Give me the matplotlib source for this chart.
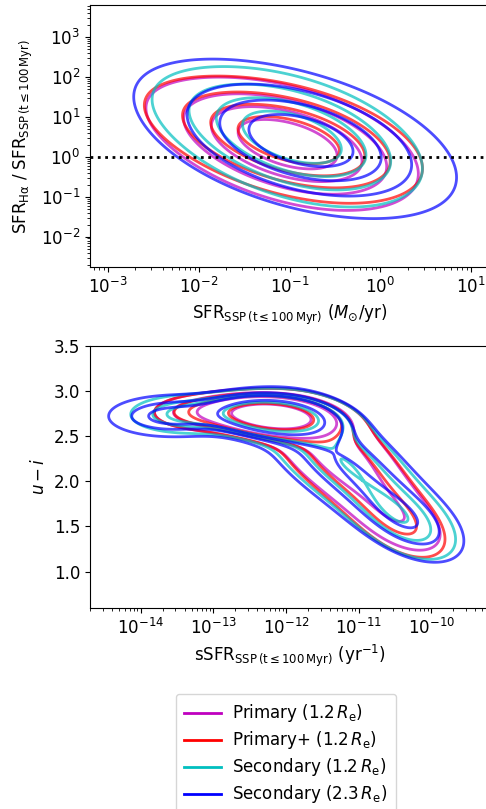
import numpy as np
import matplotlib.pyplot as plt
from matplotlib.lines import Line2D

labels = [r'Primary (1.2$\,R_{\rm e}$)', r'Primary+ (1.2$\,R_{\rm e}$)',
          r'Secondary (1.2$\,R_{\rm e}$)', r'Secondary (2.3$\,R_{\rm e}$)']
colors = ['m', 'r', 'c', 'b']
mass_frac = [0.2, 0.4, 0.6, 0.8]

# top panel: gaussian components in (log SFR, log ratio), one list per sample
top_w = [[0.75, 0.25], [0.75, 0.25], [0.75, 0.25], [0.55, 0.45]]
top_mx = [[-0.94, -1.50], [-0.92, -1.50], [-0.90, -1.40], [-0.86, -1.05]]
top_my = [[0.28, 0.62], [0.38, 0.72], [0.45, 0.80], [0.40, 0.55]]
top_sx = [[0.76, 0.95], [0.78, 0.95], [0.76, 0.95], [0.70, 1.35]]
top_sy = [[0.90, 1.00], [0.86, 0.95], [0.95, 1.05], [0.80, 1.50]]
top_rho = [[-0.42, -0.6], [-0.42, -0.6], [-0.42, -0.6], [-0.40, -0.6]]

# bottom panel: quiescent peak, low-sSFR tail, three pieces of the band
bot_w = [[0.38, 0.10, 0.22, 0.20, 0.10],
         [0.34, 0.10, 0.22, 0.22, 0.12],
         [0.28, 0.13, 0.22, 0.23, 0.14],
         [0.24, 0.15, 0.22, 0.24, 0.15]]
bot_mx = [[-12.2, -13.2, -11.55, -10.9, -10.3],
          [-12.2, -13.2, -11.55, -10.9, -10.3],
          [-12.2, -13.4, -11.6, -10.9, -10.25],
          [-12.2, -13.6, -11.65, -10.9, -10.2]]
bot_my = [[2.72, 2.76, 2.50, 2.00, 1.48],
          [2.72, 2.76, 2.50, 1.98, 1.45],
          [2.72, 2.74, 2.50, 2.00, 1.48],
          [2.72, 2.72, 2.50, 2.00, 1.48]]
bot_sx = [[0.48, 0.50, 0.62, 0.62, 0.50],
          [0.48, 0.50, 0.62, 0.62, 0.50],
          [0.48, 0.55, 0.66, 0.65, 0.52],
          [0.50, 0.60, 0.70, 0.68, 0.55]]
bot_sy = [[0.13, 0.14, 0.40, 0.42, 0.30],
          [0.13, 0.14, 0.40, 0.42, 0.31],
          [0.13, 0.15, 0.41, 0.43, 0.31],
          [0.14, 0.16, 0.43, 0.44, 0.32]]
bot_rho = [[-0.2, 0.0, -0.35, -0.5, -0.45],
           [-0.2, 0.0, -0.35, -0.5, -0.45],
           [-0.2, 0.0, -0.35, -0.5, -0.45],
           [-0.2, 0.0, -0.35, -0.5, -0.45]]

x1_ticks = [1e-3, 1e-2, 1e-1, 1e0, 1e1]
y1_ticks = [1e-2, 1e-1, 1e0, 1e1, 1e2, 1e3]
x2_ticks = [1e-14, 1e-13, 1e-12, 1e-11, 1e-10]
y2_ticks = [1.0, 1.5, 2.0, 2.5, 3.0, 3.5]


def density(gx, gy, w, mx, my, sx, sy, rho):
    z = np.zeros_like(gx)
    for k in range(len(w)):
        dx = (gx - mx[k]) / sx[k]
        dy = (gy - my[k]) / sy[k]
        q = (dx**2 - 2 * rho[k] * dx * dy + dy**2) / (1 - rho[k]**2)
        z += w[k] * np.exp(-q / 2) / (sx[k] * sy[k] * np.sqrt(1 - rho[k]**2))
    return z


def mass_levels(z, fracs):
    zs = np.sort(z.ravel())[::-1]
    c = np.cumsum(zs)
    c /= c[-1]
    return sorted(zs[np.searchsorted(c, f)] for f in fracs)


plt.rcParams['font.size'] = 12
fig = plt.figure(figsize=(4.86, 8.09), dpi=100)
ax1 = fig.add_axes([0.1852, 0.670, 0.8214, 0.3239])
ax2 = fig.add_axes([0.1852, 0.2488, 0.8214, 0.3239])

# top panel
gx, gy = np.meshgrid(np.linspace(-5, 3, 400), np.linspace(-5, 6, 400))
for i in range(4):
    z = density(gx, gy, top_w[i], top_mx[i], top_my[i], top_sx[i], top_sy[i], top_rho[i])
    ax1.contour(10**gx, 10**gy, z, levels=mass_levels(z, mass_frac),
                colors=colors[i], linewidths=2, alpha=0.7)
ax1.axhline(1, color='k', ls=':', lw=2)
ax1.set_xscale('log')
ax1.set_yscale('log')
ax1.set_xticks(x1_ticks)
ax1.set_yticks(y1_ticks)
ax1.set_xlim(10**-3.2, 10**1.2)
ax1.set_ylim(10**-2.76, 10**3.81)
ax1.set_xlabel(r'$\mathrm{SFR}_{\mathrm{SSP\,(t\leq100\,Myr)}}$ ($M_{\odot}$/yr)')
ax1.set_ylabel(r'$\mathrm{SFR}_{\mathrm{H\alpha}}$ / $\mathrm{SFR}_{\mathrm{SSP\,(t\leq100\,Myr)}}$')

# bottom panel
gx, gy = np.meshgrid(np.linspace(-16, -8, 400), np.linspace(-0.5, 4.5, 400))
for i in range(4):
    z = density(gx, gy, bot_w[i], bot_mx[i], bot_my[i], bot_sx[i], bot_sy[i], bot_rho[i])
    ax2.contour(10**gx, gy, z, levels=mass_levels(z, mass_frac),
                colors=colors[i], linewidths=2, alpha=0.7)
ax2.set_xscale('log')
ax2.set_xticks(x2_ticks)
ax2.set_yticks(y2_ticks)
ax2.set_xlim(10**-14.7, 10**-9.2)
ax2.set_ylim(0.6, 3.5)
ax2.set_xlabel(r'$\mathrm{sSFR}_{\mathrm{SSP\,(t\leq100\,Myr)}}$ (yr$^{-1}$)')
ax2.set_ylabel(r'$u-i$')

handles = [Line2D([], [], color=c, lw=2) for c in colors]
fig.legend(handles, labels, loc='upper center', bbox_to_anchor=(0.588, 0.142),
           borderaxespad=0, fontsize=12, labelspacing=0.3, borderpad=0.5,
           handlelength=2.2, handletextpad=0.7)

fig.savefig('out.png', dpi=100)
